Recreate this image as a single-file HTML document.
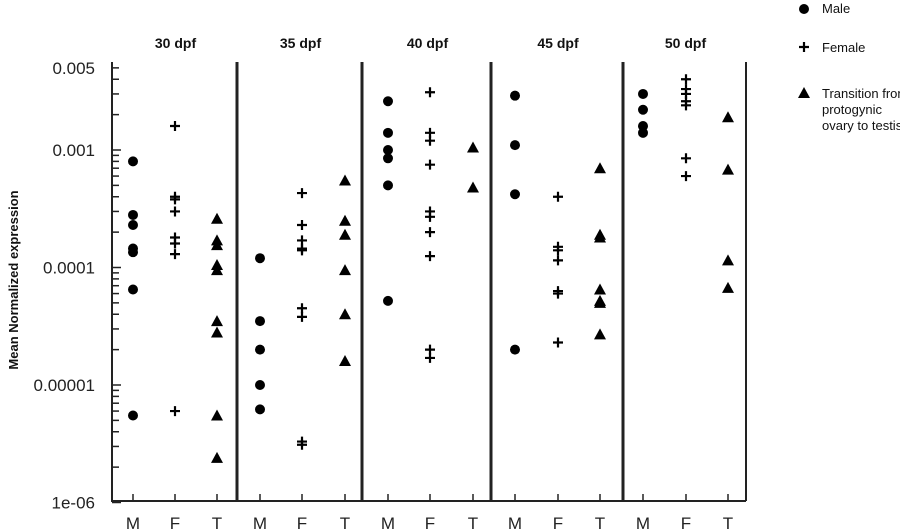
<!DOCTYPE html>
<html><head><meta charset="utf-8"><style>
body{margin:0;background:#fff;}
svg{display:block;font-family:"Liberation Sans",Arial,sans-serif;}
</style></head><body>
<svg id="chart" width="900" height="532" viewBox="0 0 900 532"></svg>
<script>
const panels = ["30 dpf","35 dpf","40 dpf","45 dpf","50 dpf"];
const groups = ["M","F","T"];
const maleValues = [
 [8e-4,2.8e-4,2.3e-4,1.45e-4,1.35e-4,6.5e-5,5.5e-6],
 [1.2e-4,3.5e-5,2e-5,1e-5,6.2e-6],
 [2.6e-3,1.4e-3,1e-3,8.5e-4,5e-4,5.2e-5],
 [2.9e-3,1.1e-3,4.2e-4,2e-5],
 [3e-3,2.2e-3,1.6e-3,1.4e-3]
];
const femaleValues = [
 [1.6e-3,4e-4,3.8e-4,3e-4,1.8e-4,1.6e-4,1.3e-4,6e-6],
 [4.3e-4,2.3e-4,1.7e-4,1.45e-4,1.4e-4,4.5e-5,3.8e-5,3.3e-6,3.1e-6],
 [3.1e-3,1.4e-3,1.2e-3,7.5e-4,3e-4,2.7e-4,2e-4,1.25e-4,2e-5,1.7e-5],
 [4e-4,1.5e-4,1.4e-4,1.15e-4,6.3e-5,6e-5,2.3e-5],
 [4e-3,3.3e-3,3e-3,2.6e-3,2.4e-3,8.5e-4,6e-4]
];
const transitionValues = [
 [2.6e-4,1.7e-4,1.55e-4,1.05e-4,9.5e-5,3.5e-5,2.8e-5,5.5e-6,2.4e-6],
 [5.5e-4,2.5e-4,1.9e-4,9.5e-5,4e-5,1.6e-5],
 [1.05e-3,4.8e-4],
 [7e-4,1.9e-4,1.8e-4,6.5e-5,5.2e-5,5e-5,2.7e-5],
 [1.9e-3,6.8e-4,1.15e-4,6.7e-5]
];
const tickValues = [0.005,0.001,0.0001,0.00001,0.000001];
const tickLabels = ["0.005","0.001","0.0001","0.00001","1e-06"];

const NS="http://www.w3.org/2000/svg";
const svg=document.getElementById('chart');
function mk(t,a,p){const el=document.createElementNS(NS,t);for(const k in a)el.setAttribute(k,a[k]);(p||svg).appendChild(el);return el;}
const yScale=v=>150-117.5*Math.log10(v/0.001);
const sepX=[112,237,362,491,623,746];
const colPos=[[133,175,217],[260,302,345],[388,430,473],[515,558,600],[643,686,728]];
const colX=(p,g)=>colPos[p][g];
const yTop=62,yBot=501;
let e;

e=mk('line',{x1:112,y1:yTop,x2:112,y2:yBot,stroke:'#222','stroke-width':2});


e=mk('line',{x1:111,y1:yBot,x2:746,y2:yBot,stroke:'#222','stroke-width':2});


for(let i=1;i<sepX.length;i++){
  e=mk('line',{x1:sepX[i],y1:yTop,x2:sepX[i],y2:yBot,stroke:'#222','stroke-width':i==5?2:3});
  
  
}
for(let d=-6;d<=-3;d++){for(let m=1;m<=9;m++){const v=m*Math.pow(10,d);if(v>0.0050001)break;
  const y=yScale(v);const len=(m==1)?9:7;
  e=mk('line',{x1:112,y1:y,x2:112+len,y2:y,stroke:'#222','stroke-width':1.5});
  
  }}
tickValues.forEach((v,i)=>{
  e=mk('text',{x:95,y:yScale(v)+6,'text-anchor':'end','font-size':17,fill:'#222'});e.textContent=tickLabels[i];
  
  
});
e=mk('text',{x:0,y:0,transform:'translate(18,280) rotate(-90)','text-anchor':'middle','font-size':13,'font-weight':'bold',fill:'#111'});
e.textContent='Mean Normalized expression';



panels.forEach((p,pi)=>{
  e=mk('text',{x:(sepX[pi]+sepX[pi+1])/2+1,y:48,'text-anchor':'middle','font-size':14,'font-weight':'bold',fill:'#111'});
  e.textContent=p;
  
  
  groups.forEach((g,gi)=>{
    const x=colX(pi,gi);
    e=mk('line',{x1:x,y1:yBot,x2:x,y2:yBot-7,stroke:'#222','stroke-width':1.5});
    
    
    e=mk('text',{x:x,y:529,'text-anchor':'middle','font-size':17,fill:'#222'});e.textContent=g;
    
    
  });
  maleValues[pi].forEach(v=>{
    const m=mk('circle',{cx:colX(pi,0),cy:yScale(v),r:5,fill:'#000'});
    
    
  });
  femaleValues[pi].forEach(v=>{
    const x=colX(pi,1),y=yScale(v);
    const m=mk('path',{d:`M${x-5},${y}H${x+5}M${x},${y-5}V${y+5}`,stroke:'#000','stroke-width':2.2});
    
    
  });
  transitionValues[pi].forEach(v=>{
    const x=colX(pi,2),y=yScale(v);
    const m=mk('polygon',{points:`${x},${y-6} ${x+6},${y+5} ${x-6},${y+5}`,fill:'#000'});
    
    
  });
});

const lg=mk('g',{});


e=mk('circle',{cx:804,cy:9,r:5,fill:'#000'},lg);


e=mk('text',{x:822,y:13,'font-size':13,fill:'#111'},lg);e.textContent='Male';


e=mk('path',{d:'M799,47H809M804,42V52',stroke:'#000','stroke-width':2.2},lg);


e=mk('text',{x:822,y:52,'font-size':13,fill:'#111'},lg);e.textContent='Female';


e=mk('polygon',{points:'804,87 810,98 798,98',fill:'#000'},lg);


['Transition from','protogynic','ovary to testis'].forEach((t,i)=>{
  e=mk('text',{x:822,y:98+i*16,'font-size':13,fill:'#111'},lg);e.textContent=t;
  
  
});
</script>
</body></html>
